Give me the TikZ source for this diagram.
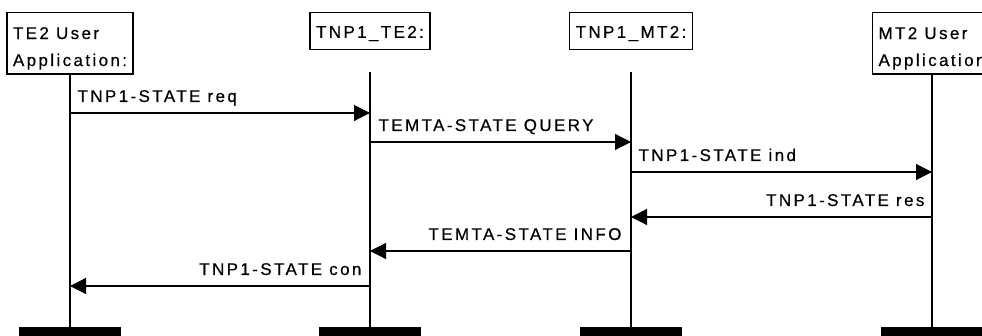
\documentclass[tikz,border=0pt]{standalone}
\usepackage{fontspec}
\newfontfamily\msgfont{Liberation Sans}[LetterSpace=14,FakeBold=0.5]
\usetikzlibrary{arrows.meta}
\begin{document}
\begin{tikzpicture}
    [
    x=1pt,y=-1pt,
    font=\msgfont\fontsize{17}{27}\selectfont,
    entity/.style={draw,line width=1.2pt,rectangle,align=left,inner xsep=6pt,minimum height=37pt},
    entity2/.style={entity,minimum height=61.5pt},
    endbar/.style={rectangle,fill=black,inner sep=0pt,minimum height=10pt,minimum width=102pt},
    life/.style={line width=1.2pt},
    msg/.style={line width=1.2pt,-{Triangle[length=16pt,width=16pt]}},
    lbl/.style={inner sep=0pt,yshift=11pt}
    ]
    \useasboundingbox (0,0) rectangle (982,336);
    \clip (0,0) rectangle (982,336);
    \node (te2) at (70,43.3) [entity2] {\rule{0pt}{22pt}TE2 User\\Application:};
    \node (tnpte) at (370,31) [entity] {\rule{0pt}{17pt}TNP1\_TE2:};
    \node (tnpmt) at (631,31) [entity] {\rule{0pt}{17pt}TNP1\_MT2:};
    \node (mt2) at (932,43.3) [entity2] {\rule{0pt}{22pt}MT2 User\\Application};
    \node (bte2) at (70,332) [endbar] {};
    \node (btnpte) at (370,332) [endbar] {};
    \node (btnpmt) at (631,332) [endbar] {};
    \node (bmt2) at (932,332) [endbar] {};
    \draw [life] (te2) -- (bte2);
    \draw [life] ([yshift=-22pt]tnpte.south) -- (btnpte);
    \draw [life] ([yshift=-22pt]tnpmt.south) -- (btnpmt);
    \draw [life] (mt2) -- (bmt2);
    \draw [msg] (te2 |- 0,113) -- node [lbl,pos=0,anchor=base west,xshift=7pt] {TNP1-STATE req} (tnpte |- 0,113);
    \draw [msg] (tnpte |- 0,142) -- node [lbl,pos=0,anchor=base west,xshift=8pt] {TEMTA-STATE QUERY} (tnpmt |- 0,142);
    \draw [msg] (tnpmt |- 0,172) -- node [lbl,pos=0,anchor=base west,xshift=7pt] {TNP1-STATE ind} (mt2 |- 0,172);
    \draw [msg] (mt2 |- 0,217) -- node [lbl,pos=0,anchor=base east,xshift=-7pt] {TNP1-STATE res} (tnpmt |- 0,217);
    \draw [msg] (tnpmt |- 0,251) -- node [lbl,pos=0,anchor=base east,xshift=-9pt] {TEMTA-STATE INFO} (tnpte |- 0,251);
    \draw [msg] (tnpte |- 0,286) -- node [lbl,pos=0,anchor=base east,xshift=-8pt] {TNP1-STATE con} (te2 |- 0,286);
  \end{tikzpicture}
\end{document}
